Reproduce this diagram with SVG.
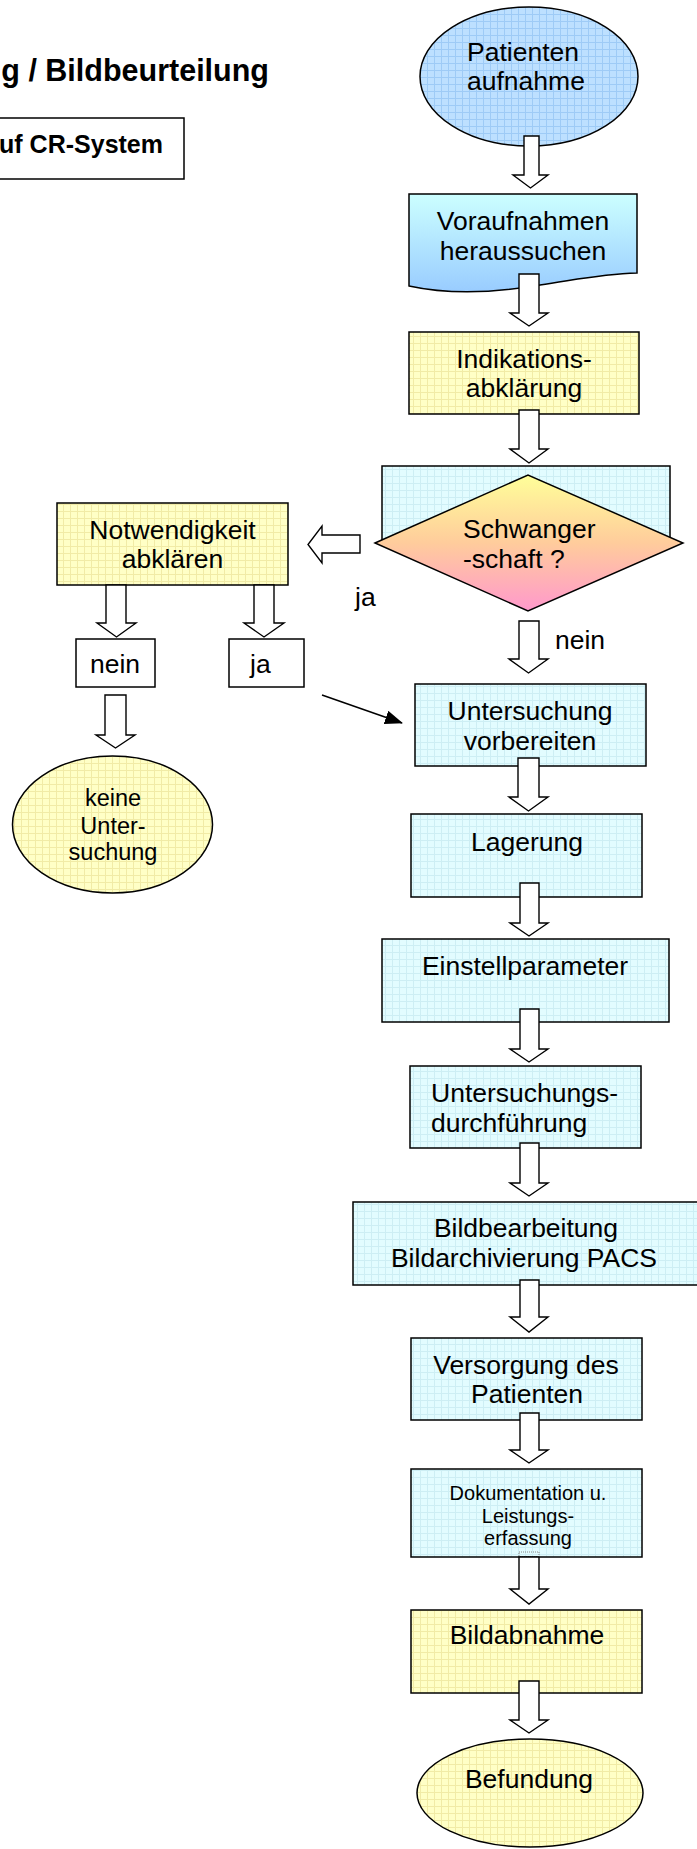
<svg xmlns="http://www.w3.org/2000/svg" width="697" height="1849" viewBox="0 0 697 1849">
<style>
text{font-family:"Liberation Sans",Arial,sans-serif;fill:#000}
.t{font-size:26.5px}
.m{text-anchor:middle}
.b{font-weight:bold}
.n{stroke:#000;stroke-width:1.5}
.a{fill:#fff;stroke:#000;stroke-width:1.4;stroke-linejoin:miter}
</style>
<defs>
<pattern id="gc" width="7" height="7" patternUnits="userSpaceOnUse"><rect width="7" height="7" fill="#e2fcff"/><path d="M0 0.5H7M0.5 0V7" stroke="#cdeef4" stroke-width="1"/></pattern>
<pattern id="gy" width="7" height="7" patternUnits="userSpaceOnUse"><rect width="7" height="7" fill="#ffffc6"/><path d="M0 0.5H7M0.5 0V7" stroke="#f1eba6" stroke-width="1"/></pattern>
<pattern id="gb" width="7" height="7" patternUnits="userSpaceOnUse"><rect width="7" height="7" fill="#bde0ff"/><path d="M0 0.5H7M0.5 0V7" stroke="#9ecbf6" stroke-width="1"/></pattern>
<linearGradient id="dia" x1="0" y1="0" x2="0" y2="1"><stop offset="0" stop-color="#ffff99"/><stop offset="0.5" stop-color="#ffcc9c"/><stop offset="1" stop-color="#ff99cc"/></linearGradient>
<linearGradient id="doc" x1="0" y1="0" x2="0" y2="1"><stop offset="0" stop-color="#ccffff"/><stop offset="1" stop-color="#99ccff"/></linearGradient>
<marker id="ah" markerUnits="userSpaceOnUse" markerWidth="18" markerHeight="14" refX="17" refY="7" orient="auto"><path d="M0,0 L18,7 L0,14 Z" fill="#000"/></marker>
<clipPath id="docclip"><rect x="411" y="1469" width="231" height="80"/></clipPath>
</defs>

<g id="title"><text class="b" x="269" y="81" style="font-size:30.5px;text-anchor:end">g / Bildbeurteilung</text></g>
<g id="cr-system"><rect x="-2" y="118" width="186" height="61" fill="#fff" class="n"/><text class="b" x="163" y="153" style="font-size:25px;text-anchor:end">uf CR-System</text></g>

<g id="patientenaufnahme"><ellipse cx="529" cy="76.5" rx="109" ry="69.5" fill="url(#gb)" class="n"/><text class="t" x="467" y="61">Patienten</text><text class="t" x="467" y="90">aufnahme</text></g>

<g id="voraufnahmen"><path d="M409,194 H637 V273 C600,274 575,280 540,285 C500,292 455,296 409,286 Z" fill="url(#doc)" class="n"/><text class="t m" x="523" y="230">Voraufnahmen</text><text class="t m" x="523" y="260">heraussuchen</text></g>

<g id="indikation"><rect x="409" y="332" width="230" height="82" fill="url(#gy)" class="n"/><text class="t m" x="524" y="368">Indikations-</text><text class="t m" x="524" y="397">abklärung</text></g>

<g id="schwangerschaft"><rect x="382" y="466" width="288" height="77" fill="url(#gc)" class="n"/><path d="M375,543 L528,475 L683,543 L528,611 Z" fill="url(#dia)" class="n"/><text class="t" x="463" y="538">Schwanger</text><text class="t" x="463" y="568">-schaft ?</text></g>

<g id="notwendigkeit"><rect x="57" y="503" width="231" height="82" fill="url(#gy)" class="n"/><text class="t m" x="172.5" y="539">Notwendigkeit</text><text class="t m" x="172.5" y="568">abklären</text></g>

<g id="nein-box"><rect x="76" y="639" width="79" height="48" fill="#fff" class="n"/><text class="t m" x="115" y="673">nein</text></g>
<g id="ja-box"><rect x="229" y="639" width="75" height="48" fill="#fff" class="n"/><text class="t" x="250" y="673">ja</text></g>

<g id="keine-untersuchung"><ellipse cx="112.5" cy="824.5" rx="100" ry="68.5" fill="url(#gy)" class="n"/><text class="m" style="font-size:23.5px" x="113" y="806">keine</text><text class="m" style="font-size:23.5px" x="113" y="834">Unter-</text><text class="m" style="font-size:23.5px" x="113" y="860">suchung</text></g>

<g id="untersuchung-vorbereiten"><rect x="415" y="684" width="231" height="82" fill="url(#gc)" class="n"/><text class="t m" x="530" y="720">Untersuchung</text><text class="t m" x="530" y="750">vorbereiten</text></g>

<g id="lagerung"><rect x="411" y="814" width="231" height="83" fill="url(#gc)" class="n"/><text class="t m" x="527" y="851">Lagerung</text></g>

<g id="einstellparameter"><rect x="382" y="939" width="287" height="83" fill="url(#gc)" class="n"/><text class="t m" x="525" y="975">Einstellparameter</text></g>

<g id="durchfuehrung"><rect x="410" y="1066" width="231" height="82" fill="url(#gc)" class="n"/><text class="t" x="431" y="1102">Untersuchungs-</text><text class="t" x="431" y="1132">durchführung</text></g>

<g id="bildbearbeitung"><rect x="353" y="1202" width="360" height="83" fill="url(#gc)" class="n"/><text class="t m" x="526" y="1237">Bildbearbeitung</text><text class="t m" x="524" y="1267">Bildarchivierung PACS</text></g>

<g id="versorgung"><rect x="411" y="1338" width="231" height="82" fill="url(#gc)" class="n"/><text class="t m" x="526" y="1374">Versorgung des</text><text class="t m" x="527" y="1403">Patienten</text></g>

<g id="dokumentation"><rect x="411" y="1469" width="231" height="88" fill="url(#gc)" class="n"/><g clip-path="url(#docclip)"><text class="m" style="font-size:20px" x="528" y="1500">Dokumentation u.</text><text class="m" style="font-size:20px" x="528" y="1523">Leistungs-</text><text class="m" style="font-size:20px" x="528" y="1545">erfassung</text></g></g>

<g id="bildabnahme"><rect x="411" y="1610" width="231" height="83" fill="url(#gy)" class="n"/><text class="t m" x="527" y="1644">Bildabnahme</text></g>

<g id="befundung"><ellipse cx="530" cy="1793" rx="113" ry="54" fill="url(#gy)" class="n"/><text class="t m" x="529" y="1788">Befundung</text></g>

<g id="connectors">
<path class="a" d="M524,136 H539 V175 H548 L530.5,188 L513,175 H524 Z"/>
<path class="a" d="M519,274 H539 V313 H548 L529,326 L510,313 H519 Z"/>
<path class="a" d="M519,410 H539 V449 H548 L529,463 L510,449 H519 Z"/>
<path class="a" d="M519,621 H539 V659 H548 L528.5,673 L509,659 H519 Z"/>
<path class="a" d="M518,758 H539 V797 H548 L528.5,811 L509,797 H518 Z"/>
<path class="a" d="M520,883 H539 V923 H548 L529,936 L510,923 H520 Z"/>
<path class="a" d="M520,1009 H539 V1049 H548 L529,1062 L510,1049 H520 Z"/>
<path class="a" d="M520,1143 H539 V1183 H548 L529,1196 L510,1183 H520 Z"/>
<path class="a" d="M520,1280 H539 V1317 H548 L529,1332 L510,1317 H520 Z"/>
<path class="a" d="M520,1413 H539 V1450 H548 L529,1463 L510,1450 H520 Z"/>
<rect x="519" y="1552" width="20" height="5" fill="none" stroke="#888" stroke-width="1" stroke-dasharray="1,1"/>
<path class="a" d="M519,1557 H539 V1589 H548 L529,1604 L510,1589 H519 Z"/>
<path class="a" d="M519,1681 H539 V1720 H548 L529,1733 L510,1720 H519 Z"/>
<path class="a" d="M106,585 H126 V623 H136 L116.5,637 L97,623 H106 Z"/>
<path class="a" d="M254,585 H274 V623 H284 L264,637 L244,623 H254 Z"/>
<path class="a" d="M105,695 H126 V735 H135 L115.5,748 L96,735 H105 Z"/>
<path class="a" d="M360,535 V553 H322 V563 L308,544.5 L322,526 V535 Z"/>
<line x1="322" y1="695" x2="402" y2="723" stroke="#000" stroke-width="1.5" marker-end="url(#ah)"/>
<text class="t" x="355" y="606">ja</text>
<text class="t" x="555" y="649">nein</text>
</g>
</svg>
